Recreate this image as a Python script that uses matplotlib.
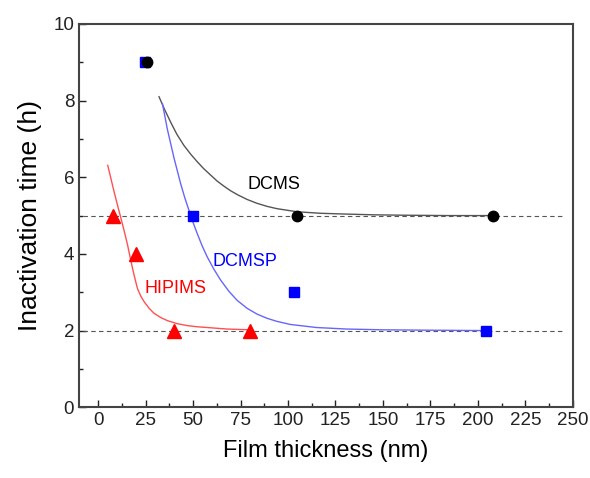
import numpy as np
import matplotlib
matplotlib.use("Agg")
import matplotlib.pyplot as plt
from matplotlib.ticker import MultipleLocator

plt.rcParams['font.family'] = ['Liberation Sans', 'DejaVu Sans']

# measured points
dcms_x = [26, 105, 208]
dcms_y = [9, 5, 5]
dcmsp_x = [24.5, 50, 103, 204]
dcmsp_y = [9, 5, 3, 2]
hipims_x = [8, 20, 40, 80]
hipims_y = [5, 4, 2, 2]

# fitted curves
dcms_fit_x = [32.1, 35, 38.3, 41.5, 45.2, 48.8, 52.3, 55.7, 59.2, 62.7, 66.2,
              69.7, 73.2, 78.5, 83.7, 89, 94.2, 104.7, 117, 130, 145, 160, 185, 208]
dcms_fit_y = [8.10, 7.77, 7.43, 7.12, 6.83, 6.60, 6.40, 6.22, 6.06, 5.90, 5.77,
              5.65, 5.55, 5.42, 5.32, 5.24, 5.18, 5.10, 5.06, 5.04, 5.02, 5.01, 5.0, 5.0]
dcmsp_fit_x = [33.9, 36.5, 40, 43.5, 45.7, 47.9, 50.1, 52.3, 54.9, 57.5, 61,
               64.5, 68.8, 73.2, 78.5, 83.7, 89, 94.2, 101.2, 115, 131, 150, 175, 204]
dcmsp_fit_y = [7.92, 7.25, 6.50, 5.83, 5.46, 5.13, 4.81, 4.52, 4.20, 3.92, 3.60,
               3.32, 3.03, 2.79, 2.58, 2.43, 2.32, 2.24, 2.16, 2.08, 2.04, 2.02, 2.01, 2.0]
hipims_fit_x = [5.1, 6.8, 8.5, 10.3, 12.1, 13.9, 15.6, 16.9, 18.2, 19.5, 20.8,
                22.5, 24.3, 26.9, 29.5, 33, 36.5, 41.7, 47, 52, 57.5, 68, 80]
hipims_fit_y = [6.31, 5.96, 5.61, 5.26, 4.92, 4.57, 4.22, 3.91, 3.61, 3.34, 3.09,
                2.90, 2.75, 2.58, 2.45, 2.34, 2.26, 2.18, 2.13, 2.10, 2.08, 2.04, 2.02]

# saturation levels
levels = [5, 2]

fig = plt.figure(figsize=(5.9, 4.78), dpi=100, facecolor="white")
ax = fig.add_axes([0.134, 0.148, 0.837, 0.802])

for lv in levels:
    ax.plot([-8, 246], [lv, lv], color="#555555", lw=0.8, ls=(0, (4, 3)))

ax.plot(dcms_fit_x, dcms_fit_y, color="#555555", lw=1.0)
ax.plot(dcmsp_fit_x, dcmsp_fit_y, color="#6666ff", lw=1.0)
ax.plot(hipims_fit_x, hipims_fit_y, color="#ff5050", lw=1.0)

ax.plot(dcmsp_x, dcmsp_y, 's', color="#0000ff", ms=6.5, mec="#0000ff")
ax.plot(dcms_x, dcms_y, 'o', color="black", ms=7.5)
ax.plot(hipims_x, hipims_y, '^', color="#ff0000", ms=10)

ax.text(92.5, 5.8, "DCMS", color="black", fontsize=13, ha="center", va="center")
ax.text(77.5, 3.8, "DCMSP", color="#0000ff", fontsize=13, ha="center", va="center")
ax.text(41, 3.1, "HIPIMS", color="#ff0000", fontsize=13, ha="center", va="center")

ax.set_xlim(-10, 250)
ax.set_ylim(0, 10)
ax.xaxis.set_major_locator(MultipleLocator(25))
ax.xaxis.set_minor_locator(MultipleLocator(12.5))
ax.yaxis.set_major_locator(MultipleLocator(2))
ax.yaxis.set_minor_locator(MultipleLocator(1))
ax.tick_params(which="both", direction="in", top=False, right=False,
               labelsize=13.5, colors="#222222")
ax.tick_params(which="major", length=5, width=1)
ax.tick_params(which="minor", length=3, width=1)
for sp in ax.spines.values():
    sp.set_color("#444444")
    sp.set_linewidth(1.5)

ax.set_xlabel("Film thickness (nm)", fontsize=17, labelpad=8)
ax.set_ylabel("Inactivation time (h)", fontsize=19, labelpad=8)

fig.savefig("out.png", dpi=100, facecolor="white")
